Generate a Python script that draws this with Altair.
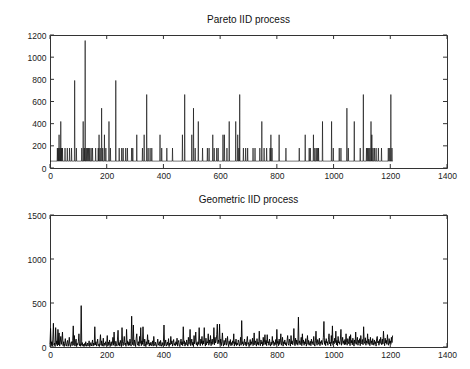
import altair as alt
import pandas as pd

# ---------------- data ----------------
n_samples = 1210
pareto_baseline = 62
pareto_spike_x = [26, 29, 32, 35, 38, 41, 44, 53, 61, 69, 76, 87, 93,
                  112, 117, 121, 124, 128, 132, 136, 140, 145, 150, 161,
                  170, 173, 177, 182, 186, 192, 197, 208, 213, 232,
                  244, 253, 258, 267, 273, 288, 292, 306,
                  326, 332, 341, 346, 353, 359, 388, 394, 412, 432,
                  467, 475, 500, 506, 512, 523, 538, 555, 561,
                  574, 579, 588, 593, 610, 615, 624, 632,
                  655, 662, 666, 669, 682, 690, 697, 716, 723,
                  740, 747, 755, 764, 776, 779, 783, 808, 832,
                  879, 900, 914, 918, 929, 934, 939, 944, 947, 961,
                  993, 999, 1020, 1026, 1047, 1052, 1073, 1094, 1105,
                  1116, 1120, 1124, 1128, 1132, 1135, 1139, 1144, 1150, 1158, 1169,
                  1193, 1198, 1202, 1206]
pareto_spike_y = [180, 180, 300, 180, 420, 180, 180, 180, 180, 180, 180, 790, 180,
                  180, 420, 180, 1150, 180, 180, 180, 180, 180, 180, 180,
                  180, 300, 180, 540, 180, 300, 180, 420, 180, 790,
                  180, 180, 180, 180, 180, 180, 180, 300,
                  180, 300, 663, 180, 180, 180, 300, 180, 180, 180,
                  300, 663, 300, 540, 180, 420, 180, 180, 180,
                  300, 180, 180, 180, 300, 300, 180, 420,
                  420, 300, 180, 663, 180, 180, 180, 180, 180,
                  180, 420, 180, 180, 180, 300, 180, 300, 180,
                  180, 300, 180, 180, 300, 180, 180, 180, 180, 420,
                  420, 180, 180, 180, 540, 180, 420, 180, 663,
                  180, 180, 180, 180, 420, 300, 180, 180, 180, 180, 180,
                  180, 180, 663, 180]

geo_step = 2
geo_values = [
    40, 210, 15, 60, 8, 90, 270, 20, 45, 5, 220, 30, 70, 12, 200, 25, 160, 10, 55, 120,
    30, 80, 170, 15, 60, 5, 40, 95, 20, 10, 50, 75, 8, 35, 110, 25, 5, 45, 60, 15,
    70, 240, 20, 130, 10, 55, 90, 5, 40, 25, 60, 150, 15, 35, 8, 470, 20, 50, 10, 30,
    5, 40, 15, 60, 8, 25, 45, 10, 30, 70, 5, 20, 50, 12, 35, 80, 10, 45, 20, 230,
    25, 60, 10, 40, 90, 15, 30, 5, 55, 140, 20, 70, 10, 35, 100, 8, 45, 25, 60, 15,
    40, 130, 10, 55, 25, 80, 5, 35, 60, 15, 45, 110, 20, 170, 30, 8, 65, 40, 10, 90,
    190, 20, 50, 10, 75, 35, 5, 220, 40, 15, 60, 120, 25, 45, 8, 200, 30, 70, 15, 55,
    20, 90, 40, 10, 350, 60, 25, 250, 15, 80, 45, 5, 100, 150, 35, 20, 60, 10, 120, 40,
    220, 15, 70, 30, 230, 50, 10, 90, 40, 5, 60, 25, 140, 35, 80, 10, 45, 20, 55, 15,
    30, 70, 10, 120, 40, 15, 55, 25, 5, 45, 90, 20, 35, 60, 10, 75, 30, 8, 50, 20,
    60, 250, 15, 40, 80, 10, 30, 55, 20, 95, 5, 45, 25, 120, 35, 70, 10, 50, 85, 20,
    40, 15, 60, 30, 100, 10, 50, 75, 20, 5, 45, 90, 25, 60, 15, 230, 35, 70, 10, 50,
    25, 80, 40, 10, 110, 30, 60, 200, 15, 45, 90, 20, 55, 5, 130, 35, 70, 170, 25, 50,
    10, 60, 30, 220, 45, 15, 90, 40, 120, 20, 70, 35, 220, 50, 10, 100, 25, 60, 45, 150,
    20, 80, 40, 130, 15, 60, 90, 30, 55, 220, 25, 110, 45, 70, 140, 260, 35, 80, 50, 260,
    30, 90, 15, 60, 160, 40, 10, 75, 25, 50, 100, 20, 45, 120, 35, 5, 65, 30, 85, 15,
    50, 20, 70, 40, 150, 10, 60, 30, 90, 15, 45, 25, 80, 55, 10, 40, 110, 20, 300, 35,
    60, 15, 45, 90, 25, 55, 10, 70, 120, 30, 50, 5, 40, 85, 20, 60, 35, 100, 15, 45,
    160, 25, 70, 40, 10, 95, 30, 55, 20, 180, 45, 15, 80, 35, 60, 10, 110, 25, 50, 140,
    30, 75, 15, 140, 45, 60, 20, 90, 35, 10, 55, 25, 120, 40, 70, 15, 50, 30, 85, 20,
    200, 40, 65, 15, 90, 30, 55, 150, 20, 45, 110, 10, 60, 35, 80, 25, 50, 15, 70, 130,
    40, 20, 90, 55, 10, 130, 35, 70, 25, 60, 210, 45, 15, 100, 30, 80, 50, 20, 340, 40,
    70, 25, 55, 110, 15, 150, 40, 80, 20, 60, 35, 95, 10, 50, 130, 30, 75, 20, 45, 65,
    15, 90, 40, 60, 25, 120, 35, 10, 70, 180, 45, 20, 85, 55, 30, 100, 15, 60, 40, 75,
    25, 50, 110, 290, 30, 70, 15, 95, 45, 60, 20, 85, 150, 35, 55, 10, 130, 40, 240, 20,
    65, 35, 100, 50, 180, 25, 75, 15, 120, 45, 60, 30, 90, 200, 20, 55, 110, 40, 70, 25,
    85, 30, 150, 50, 20, 95, 60, 35, 120, 15, 140, 45, 75, 25, 100, 55, 10, 80, 40, 170,
    30, 60, 110, 20, 75, 45, 95, 15, 130, 50, 35, 85, 25, 230, 60, 40, 105, 20, 70, 45,
    150, 30, 90, 55, 15, 110, 40, 70, 25, 95, 50, 20, 80, 35, 60, 10, 100, 120, 45, 65,
    20, 85, 40, 110, 55, 25, 90, 35, 180, 60, 15, 100, 45, 75, 30, 140, 50, 20, 95, 40,
    70, 30, 110, 50, 130,
]

x_ticks = [0, 200, 400, 600, 800, 1000, 1200, 1400]
pareto_y_ticks = [0, 200, 400, 600, 800, 1000, 1200]
geo_y_ticks = [0, 500, 1000, 1500]
titles = ["Pareto IID process", "Geometric IID process"]

# ---------------- build tables ----------------
pareto_vals = [pareto_baseline] * n_samples
for px, py in zip(pareto_spike_x, pareto_spike_y):
    pareto_vals[px] = py
pareto_df = pd.DataFrame({"x": list(range(n_samples)), "y": pareto_vals})
geo_df = pd.DataFrame({"x": [i * geo_step for i in range(len(geo_values))], "y": geo_values})

W = 397
TICK = 4
AXC = "#333333"


def panel(df, title, ymax, yticks, h, sw):
    xs = alt.Scale(domain=[0, 1400], nice=False, zero=False)
    ys = alt.Scale(domain=[0, ymax], nice=False)
    xa = alt.Axis(values=x_ticks, title=None, ticks=False, domain=False,
                  grid=False, labelPadding=3, labelFlush=False,
                  labelOverlap=False, format="d")
    ya = alt.Axis(values=yticks, title=None, ticks=False, domain=False,
                  grid=False, labelPadding=4, labelFlush=False,
                  labelOverlap=False, format="d")
    line = alt.Chart(df).mark_line(color="black", strokeWidth=sw).encode(
        x=alt.X("x:Q", scale=xs, axis=xa),
        y=alt.Y("y:Q", scale=ys, axis=ya),
    )
    xt = pd.DataFrame({"x": x_ticks})
    yt = pd.DataFrame({"y": yticks})
    tb = alt.Chart(xt).mark_rule(color=AXC, strokeWidth=1).encode(
        x=alt.X("x:Q", scale=xs, axis=xa), y=alt.value(h), y2=alt.value(h - TICK))
    tt = alt.Chart(xt).mark_rule(color=AXC, strokeWidth=1).encode(
        x=alt.X("x:Q", scale=xs, axis=xa), y=alt.value(0), y2=alt.value(TICK))
    tl = alt.Chart(yt).mark_rule(color=AXC, strokeWidth=1).encode(
        y=alt.Y("y:Q", scale=ys, axis=ya), x=alt.value(0), x2=alt.value(TICK))
    tr = alt.Chart(yt).mark_rule(color=AXC, strokeWidth=1).encode(
        y=alt.Y("y:Q", scale=ys, axis=ya), x=alt.value(W - TICK), x2=alt.value(W))
    return alt.layer(line, tb, tt, tl, tr).properties(
        width=W, height=h, title=alt.TitleParams(title))


top = panel(pareto_df, titles[0], 1200, pareto_y_ticks, 133, 0.6)
bottom = panel(geo_df, titles[1], 1500, geo_y_ticks, 132, 0.9)

chart = alt.vconcat(top, bottom, spacing=14).properties(
    padding={"left": 18, "top": 6, "right": 5, "bottom": 5},
    background="white",
).configure_view(
    stroke=AXC, strokeWidth=1
).configure_axis(
    labelFont="Liberation Sans", labelFontSize=8.5, labelColor="#222222"
).configure_title(
    font="Liberation Sans", fontSize=10, fontWeight="normal", color="#111111",
    offset=6, anchor="middle"
)

chart.save("out.html", embed_options={"renderer": "svg", "actions": False})
